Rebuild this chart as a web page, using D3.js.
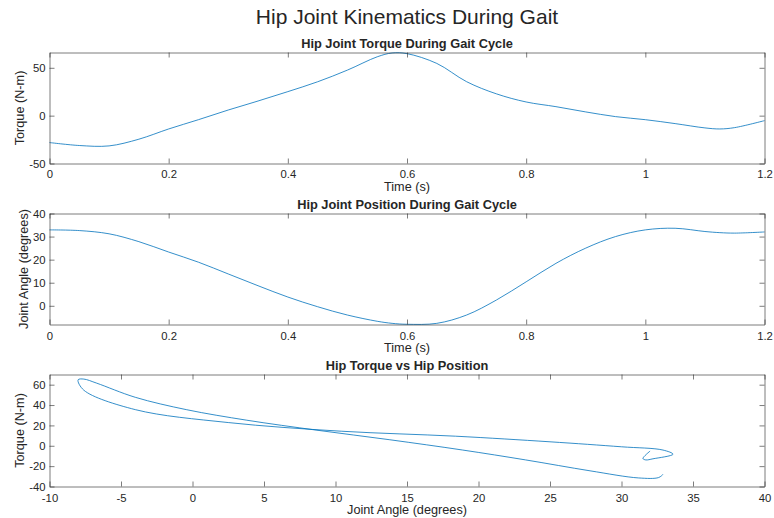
<!DOCTYPE html>
<html>
<head>
<meta charset="utf-8">
<script src="https://cdn.jsdelivr.net/npm/d3@7"></script>
<style>
  html, body { margin: 0; padding: 0; background: #fff; }
  svg { display: block; font-family: "Liberation Sans", Arial, Helvetica, sans-serif; }
</style>
</head>
<body>
<svg id="chart" width="774" height="518"></svg>
<script>
// ---- data ----
const time   = [0, 0.05, 0.1, 0.15, 0.2, 0.25, 0.3, 0.35, 0.4, 0.45, 0.5, 0.55, 0.575, 0.6, 0.65, 0.7, 0.75, 0.8, 0.85, 0.9, 0.95, 1.0, 1.05, 1.1, 1.125, 1.15, 1.2];
const torque = [-28.1, -31.2, -31.6, -24.6, -13.9, -4.2, 5.9, 15.3, 25.1, 35.4, 47.6, 61.5, 65.5, 64.8, 54.6, 35.5, 22.8, 14.3, 9.4, 3.9, -1.0, -4.2, -8.3, -12.8, -13.9, -12.5, -5.2];
const angle  = [32.9, 32.6, 31.2, 27.8, 23.3, 18.9, 13.8, 8.7, 3.8, -0.4, -4.0, -6.7, -7.6, -8.0, -7.6, -4.0, 2.5, 10.4, 18.4, 25.0, 30.0, 32.9, 33.6, 32.2, 31.7, 31.5, 32.0];

const timeTicks   = [0, 0.2, 0.4, 0.6, 0.8, 1, 1.2];
const torqueTicks = [-50, 0, 50];
const angleTicks  = [0, 10, 20, 30, 40];
const xyXTicks    = [-10, -5, 0, 5, 10, 15, 20, 25, 30, 35, 40];
const xyYTicks    = [-40, -20, 0, 20, 40, 60];

const mainTitle = "Hip Joint Kinematics During Gait";
const titles = ["Hip Joint Torque During Gait Cycle", "Hip Joint Position During Gait Cycle", "Hip Torque vs Hip Position"];
const xLabels = ["Time (s)", "Time (s)", "Joint Angle (degrees)"];
const yLabels = ["Torque (N-m)", "Joint Angle (degrees)", "Torque (N-m)"];

// ---- layout ----
const svg = d3.select("#chart");
const left = 49.5, right = 764.5;
const smooth = d3.curveCatmullRom.alpha(0.5);
const panels = [
  { top: 52.5, bottom: 163.5, xDom: [0, 1.2], yDom: [-50, 66], xt: timeTicks, yt: torqueTicks,
    pts: time.map((t, i) => [t, torque[i]]), titleY: 48, tickY: 178, xlabY: 190.5, ylabX: 23.5 },
  { top: 213.5, bottom: 324.5, xDom: [0, 1.2], yDom: [-8.1, 40], xt: timeTicks, yt: angleTicks,
    pts: time.map((t, i) => [t, angle[i]]), titleY: 209, tickY: 340, xlabY: 352, ylabX: 28 },
  { top: 374.5, bottom: 486.5, xDom: [-10, 40], yDom: [-40, 70], xt: xyXTicks, yt: xyYTicks,
    pts: angle.map((a, i) => [a, torque[i]]), titleY: 370, tickY: 501.5, xlabY: 514, ylabX: 23.5 }
];

const textColor = "#262626";
const axisColor = "#262626";
const lineColor = "#0072BD";
const fmt = d => d3.format("~g")(d).replace("\u2212", "-");

svg.append("text")
  .attr("x", 407).attr("y", 24)
  .attr("text-anchor", "middle")
  .attr("font-size", 21)
  .attr("fill", textColor)
  .text(mainTitle);

panels.forEach((p, k) => {
  const x = d3.scaleLinear().domain(p.xDom).range([left, right]);
  const y = d3.scaleLinear().domain(p.yDom).range([p.bottom, p.top]);
  const g = svg.append("g");
  const tl = 5;

  // data line
  const clipId = "clip" + k;
  svg.append("clipPath").attr("id", clipId).append("rect")
    .attr("x", left - 1).attr("y", p.top - 1).attr("width", right - left + 2).attr("height", p.bottom - p.top + 2);
  g.append("path")
    .datum(p.pts)
    .attr("clip-path", `url(#${clipId})`)
    .attr("fill", "none")
    .attr("stroke", lineColor)
    .attr("stroke-width", 0.8)
    .attr("d", d3.line().x(d => x(d[0])).y(d => y(d[1])).curve(smooth));

  // axes (box with inward ticks on all sides)
  const bottomAxis = d3.axisBottom(x).tickValues(p.xt).tickSizeInner(-tl).tickSizeOuter(0).tickFormat(fmt);
  const topAxis = d3.axisTop(x).tickValues(p.xt).tickSizeInner(-tl).tickSizeOuter(0).tickFormat("");
  const leftAxis = d3.axisLeft(y).tickValues(p.yt).tickSizeInner(-tl).tickSizeOuter(0).tickFormat(fmt);
  const rightAxis = d3.axisRight(y).tickValues(p.yt).tickSizeInner(-tl).tickSizeOuter(0).tickFormat("");

  const styleAxis = sel => {
    sel.select(".domain").attr("stroke", axisColor).attr("stroke-width", 1).attr("stroke-opacity", 0.6);
    sel.selectAll(".tick line").attr("stroke", axisColor).attr("stroke-opacity", 0.6);
    sel.selectAll(".tick text").attr("fill", textColor).attr("font-size", 11.3)
      .attr("font-family", "\"Liberation Sans\", Arial, sans-serif");
  };

  const gb = g.append("g").attr("transform", `translate(0,${p.bottom})`).call(bottomAxis).call(styleAxis);
  gb.selectAll(".tick text").attr("dy", null).attr("y", p.tickY - p.bottom);
  g.append("g").attr("transform", `translate(0,${p.top})`).call(topAxis).call(styleAxis);
  const gl = g.append("g").attr("transform", `translate(${left},0)`).call(leftAxis).call(styleAxis);
  gl.selectAll(".tick text").attr("x", -4);
  g.append("g").attr("transform", `translate(${right},0)`).call(rightAxis).call(styleAxis);

  // titles & labels
  g.append("text").attr("x", (left + right) / 2).attr("y", p.titleY)
    .attr("text-anchor", "middle").attr("font-weight", "bold").attr("font-size", 12.8)
    .attr("fill", textColor).text(titles[k]);
  g.append("text").attr("x", (left + right) / 2).attr("y", p.xlabY)
    .attr("text-anchor", "middle").attr("font-size", 12.7)
    .attr("fill", textColor).text(xLabels[k]);
  g.append("text")
    .attr("transform", `translate(${p.ylabX},${(p.top + p.bottom) / 2}) rotate(-90)`)
    .attr("text-anchor", "middle").attr("font-size", 12.7)
    .attr("fill", textColor).text(yLabels[k]);
});
</script>
</body>
</html>
